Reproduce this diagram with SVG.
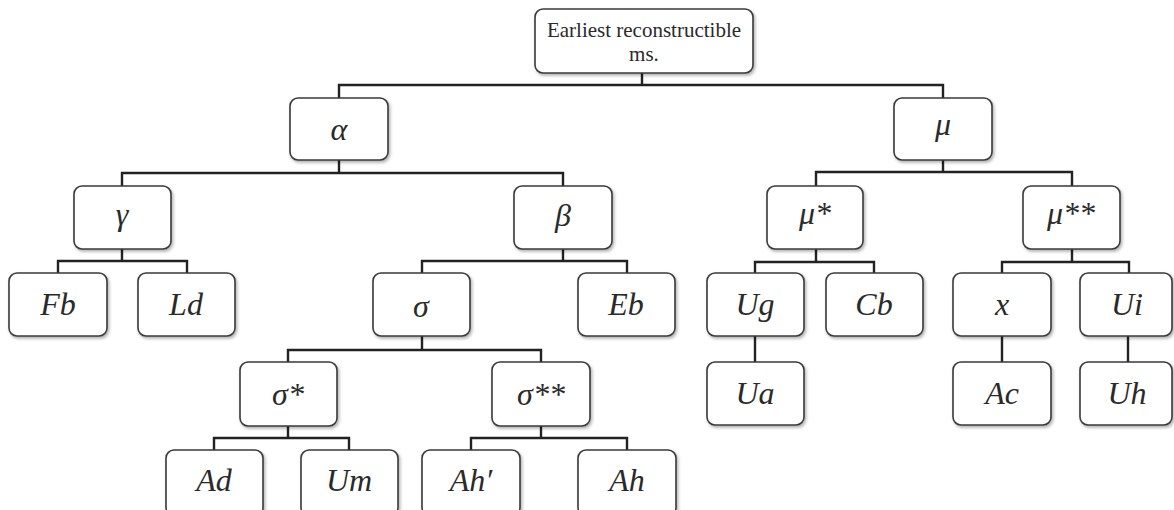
<svg xmlns="http://www.w3.org/2000/svg" width="1174" height="510" viewBox="0 0 1174 510">
<defs>
<filter id="sh" x="-10%" y="-10%" width="130%" height="130%">
<feDropShadow dx="1.5" dy="2" stdDeviation="1.5" flood-color="#000" flood-opacity="0.3"/>
</filter>
</defs>
<style>
.b{fill:#fff;stroke:#3a3a3a;stroke-width:1.6;filter:url(#sh)}
.t{font-family:'Liberation Serif','Times New Roman',serif;font-style:italic;font-size:32px;fill:#2a2a2a;text-anchor:middle}
.r{font-family:'Liberation Serif','Times New Roman',serif;font-size:21px;fill:#2a2a2a;text-anchor:middle}
.c{fill:none;stroke:#222;stroke-width:2.4;stroke-linejoin:miter}
</style>
<rect width="1174" height="510" fill="#fff"/>
<g id="connectors">
<path class="c" d="M642 73V85M339 98V85H943V98"/>
<path class="c" d="M339 160V173M122 186V173H563V186"/>
<path class="c" d="M943 160V172M816 186V172H1072V186"/>
<path class="c" d="M122 249V261M58 273V261H187V273"/>
<path class="c" d="M563 249V261M422 273V261H627V273"/>
<path class="c" d="M816 249V262M755 273V262H874V273"/>
<path class="c" d="M1072 249V262M1002 273V262H1129V273"/>
<path class="c" d="M422 336V350M288 362V350H541V362"/>
<path class="c" d="M755 336V362"/>
<path class="c" d="M1002 336V362"/>
<path class="c" d="M1128 336V362"/>
<path class="c" d="M288 425V438M214 450V438H349V450"/>
<path class="c" d="M541 425V438M471 450V438H627V450"/>
</g>
<g id="root"><rect class="b" x="535" y="9" width="218" height="64" rx="8"/><text class="r" x="644" y="37">Earliest reconstructible</text><text class="r" x="644" y="61">ms.</text></g>
<g id="alpha"><rect class="b" x="290" y="98" width="98" height="62" rx="8"/><text class="t" x="339" y="140">α</text></g>
<g id="mu"><rect class="b" x="894" y="98" width="98" height="62" rx="8"/><text class="t" x="943" y="135">μ</text></g>
<g id="gamma"><rect class="b" x="74" y="186" width="97" height="63" rx="8"/><text class="t" x="122" y="225">γ</text></g>
<g id="beta"><rect class="b" x="514" y="186" width="98" height="63" rx="8"/><text class="t" x="563" y="226">β</text></g>
<g id="mu1"><rect class="b" x="767" y="186" width="96" height="63" rx="8"/><text class="t" x="815" y="224">μ*</text></g>
<g id="mu2"><rect class="b" x="1023" y="186" width="97" height="63" rx="8"/><text class="t" x="1071" y="224">μ**</text></g>
<g id="Fb"><rect class="b" x="9" y="273" width="98" height="63" rx="8"/><text class="t" x="58" y="315">Fb</text></g>
<g id="Ld"><rect class="b" x="138" y="273" width="97" height="63" rx="8"/><text class="t" x="186" y="315">Ld</text></g>
<g id="sigma"><rect class="b" x="373" y="273" width="97" height="63" rx="8"/><text class="t" x="421" y="317">σ</text></g>
<g id="Eb"><rect class="b" x="578" y="273" width="97" height="63" rx="8"/><text class="t" x="626" y="315">Eb</text></g>
<g id="Ug"><rect class="b" x="707" y="273" width="97" height="63" rx="8"/><text class="t" x="755" y="315">Ug</text></g>
<g id="Cb"><rect class="b" x="826" y="273" width="97" height="63" rx="8"/><text class="t" x="874" y="315">Cb</text></g>
<g id="x"><rect class="b" x="953" y="273" width="98" height="63" rx="8"/><text class="t" x="1002" y="315">x</text></g>
<g id="Ui"><rect class="b" x="1080" y="273" width="92" height="63" rx="8"/><text class="t" x="1127" y="315">Ui</text></g>
<g id="sigma1"><rect class="b" x="240" y="362" width="97" height="64" rx="8"/><text class="t" x="288" y="405">σ*</text></g>
<g id="sigma2"><rect class="b" x="492" y="362" width="98" height="64" rx="8"/><text class="t" x="541" y="405">σ**</text></g>
<g id="Ua"><rect class="b" x="707" y="362" width="97" height="63" rx="8"/><text class="t" x="755" y="404">Ua</text></g>
<g id="Ac"><rect class="b" x="953" y="362" width="98" height="63" rx="8"/><text class="t" x="1002" y="404">Ac</text></g>
<g id="Uh"><rect class="b" x="1080" y="362" width="92" height="63" rx="8"/><text class="t" x="1127" y="404">Uh</text></g>
<g id="Ad"><rect class="b" x="166" y="450" width="97" height="66" rx="8"/><text class="t" x="214" y="491">Ad</text></g>
<g id="Um"><rect class="b" x="301" y="450" width="97" height="66" rx="8"/><text class="t" x="349" y="491">Um</text></g>
<g id="Ahp"><rect class="b" x="422" y="450" width="98" height="66" rx="8"/><text class="t" x="471" y="491">Ah′</text></g>
<g id="Ah"><rect class="b" x="578" y="450" width="98" height="66" rx="8"/><text class="t" x="627" y="491">Ah</text></g>
</svg>
